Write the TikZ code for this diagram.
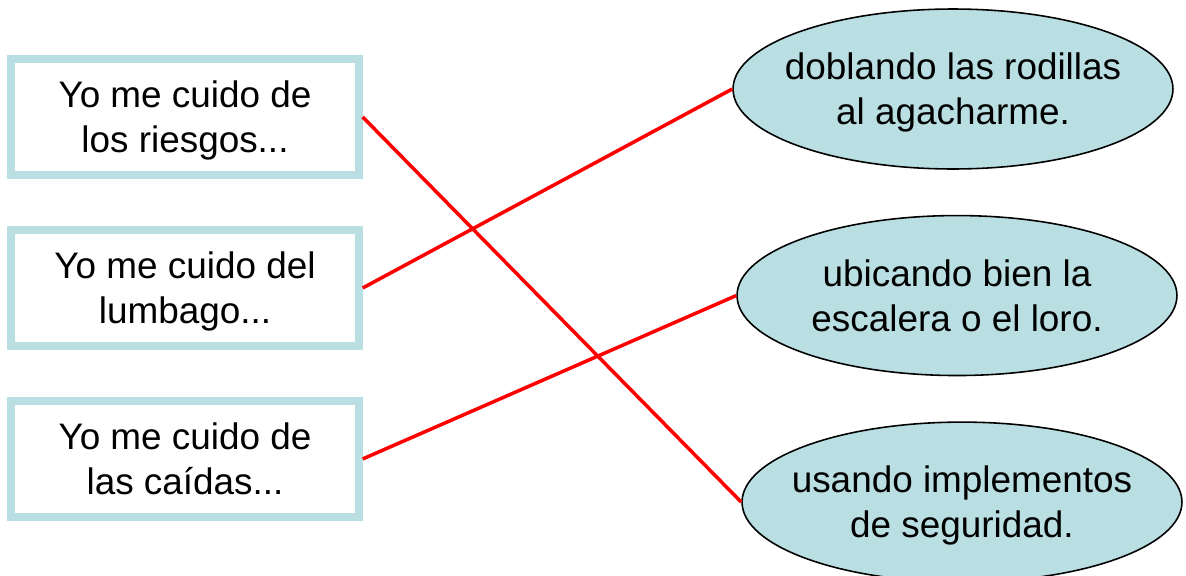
\documentclass[tikz,border=0pt]{standalone}
\usepackage{fontspec}
\setmainfont{Liberation Sans}
\usetikzlibrary{positioning,shapes.geometric}
\definecolor{celeste}{RGB}{186,223,227}

\begin{document}
\begin{tikzpicture}[x=0.02cm,y=-0.02cm,
  every node/.style={font=\fontsize{21}{25.6}\selectfont,align=center,text depth=0pt},
  caja/.style={draw=celeste,line width=0.16cm,fill=white,minimum width=6.95cm,minimum height=2.32cm,outer sep=0.08cm},
  globo/.style={ellipse,draw=black,line width=0.9pt,fill=celeste,minimum width=8.8cm,minimum height=3.2cm,inner xsep=-0.5cm,inner ysep=0pt},
  union/.style={draw=red,line width=2pt}]
  \useasboundingbox (0,0) rectangle (1186,575);
  % left column
  \node[caja] (riesgos) at (185,117) {Yo me cuido de\\los riesgos...};
  \node[caja,below=0.94cm of riesgos] (lumbago) {Yo me cuido del\\lumbago...};
  \node[caja,below=0.94cm of lumbago] (caidas) {Yo me cuido de\\las caídas...};
  % right column
  \node[globo] (rodillas) at (953,89) {doblando las rodillas\\al agacharme.};
  \node[globo,below=0.9cm of rodillas,xshift=0.08cm] (escalera) {ubicando bien la\\escalera o el loro.};
  \node[globo,below=0.9cm of escalera,xshift=0.1cm] (seguridad) {usando implementos\\de seguridad.};
  % answers
  \path[union] (riesgos.east) -- (seguridad.west)
               (lumbago.east) -- (rodillas.west)
               (caidas.east) -- (escalera.west);
\end{tikzpicture}
\end{document}
